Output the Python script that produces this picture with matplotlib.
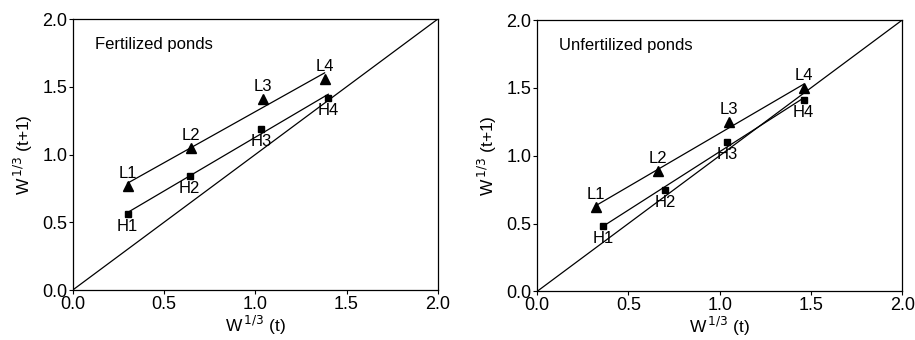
import numpy as np
import matplotlib.pyplot as plt

plt.rcParams['font.family'] = ['Liberation Sans', 'DejaVu Sans']

# cube-root weight at t vs t+1, low (L) and high (H) density ponds
fert_L_x = [0.30, 0.65, 1.04, 1.38]
fert_L_y = [0.77, 1.05, 1.41, 1.56]
fert_H_x = [0.30, 0.64, 1.03, 1.40]
fert_H_y = [0.56, 0.84, 1.19, 1.42]

unf_L_x = [0.32, 0.66, 1.05, 1.46]
unf_L_y = [0.62, 0.89, 1.25, 1.50]
unf_H_x = [0.36, 0.70, 1.04, 1.46]
unf_H_y = [0.48, 0.75, 1.10, 1.41]

point_names = ['1', '2', '3', '4']
ticks = [0.0, 0.5, 1.0, 1.5, 2.0]

fig = plt.figure(figsize=(9.15, 3.4), dpi=100)
ax1 = fig.add_axes([0.0795, 0.147, 0.399, 0.797])
ax2 = fig.add_axes([0.587, 0.143, 0.399, 0.798])


def panel(ax, title, lx, ly, hx, hy):
    ax.plot([0, 2], [0, 2], color='k', lw=0.9)
    for xs, ys, mk, ms, prefix, dy in [(lx, ly, '^', 6.5, 'L', 9),
                                       (hx, hy, 's', 5, 'H', -9)]:
        xs = np.array(xs)
        ys = np.array(ys)
        slope, icpt = np.polyfit(xs, ys, 1)
        xl = np.array([xs.min(), xs.max()])
        ax.plot(xl, icpt + slope * xl, color='k', lw=0.9)
        ax.plot(xs, ys, linestyle='none', marker=mk, ms=ms, color='k')
        for x, y, n in zip(xs, ys, point_names):
            ax.annotate(prefix + n, (x, y), xytext=(0, dy),
                        textcoords='offset points', ha='center',
                        va='center', fontsize=12)
    ax.text(0.12, 1.81, title, fontsize=12, va='center')
    ax.set_xlim(0, 2)
    ax.set_ylim(0, 2)
    ax.set_xticks(ticks)
    ax.set_yticks(ticks)
    ax.set_xticklabels(['%.1f' % t for t in ticks], fontsize=13)
    ax.set_yticklabels(['%.1f' % t for t in ticks], fontsize=13)
    ax.tick_params(direction='out', length=3, width=0.8, pad=1)
    for s in ax.spines.values():
        s.set_linewidth(0.9)
    ax.set_xlabel(r'W$^{\,1/3}$ (t)', fontsize=12.5, labelpad=1)
    ax.set_ylabel(r'W$^{\,1/3}$ (t+1)', fontsize=12.5, labelpad=5)


panel(ax1, 'Fertilized ponds', fert_L_x, fert_L_y, fert_H_x, fert_H_y)
panel(ax2, 'Unfertilized ponds', unf_L_x, unf_L_y, unf_H_x, unf_H_y)

fig.savefig('out.png', dpi=100)
